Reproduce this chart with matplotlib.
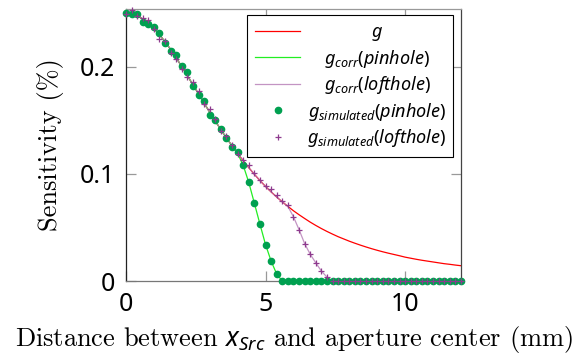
import numpy as np
import matplotlib
matplotlib.use("Agg")
import matplotlib.pyplot as plt

plt.rcParams['mathtext.fontset'] = 'custom'
plt.rcParams['mathtext.it'] = 'Noto Sans:italic'
plt.rcParams['mathtext.rm'] = 'Noto Sans'
plt.rcParams['axes.unicode_minus'] = False

# x grid of the curves (mm), step 0.2 from 0 to 12
x = np.round(np.arange(0, 12.01, 0.2), 1)

g = [0.2500, 0.2494, 0.2476, 0.2447, 0.2407, 0.2357, 0.2299, 0.2234, 0.2162, 0.2083,
     0.2001, 0.1917, 0.1832, 0.1746, 0.1660, 0.1576, 0.1493, 0.1413, 0.1336, 0.1262,
     0.1191, 0.1123, 0.1058, 0.0996, 0.0938, 0.0883, 0.0832, 0.0784, 0.0739, 0.0697,
     0.0656, 0.0619, 0.0584, 0.0550, 0.0519, 0.0490, 0.0463, 0.0438, 0.0414, 0.0393,
     0.0372, 0.0353, 0.0335, 0.0318, 0.0302, 0.0287, 0.0273, 0.0260, 0.0248, 0.0236,
     0.0223, 0.0213, 0.0203, 0.0194, 0.0186, 0.0178, 0.0170, 0.0162, 0.0156, 0.0149,
     0.0143]

g_corr_pin = g[:21] + [0.1080, 0.0920, 0.0726, 0.0530, 0.0340, 0.0186, 0.0065] + [0.0] * 33

g_corr_loft = g[:30] + [0.0600, 0.0480, 0.0350, 0.0250, 0.0170, 0.0093, 0.0037] + [0.0] * 24

g_sim_pin = [0.2505, 0.2495, 0.2490, 0.2422, 0.2397, 0.2375, 0.2313, 0.2220, 0.2149, 0.2109,
             0.2003, 0.1947, 0.1823, 0.1740, 0.1677, 0.1550, 0.1507, 0.1420, 0.1337, 0.1250,
             0.1200, 0.1080, 0.0920, 0.0726, 0.0530, 0.0340, 0.0186, 0.0065] + [0.0] * 33

g_sim_loft = [0.2490, 0.2530, 0.2470, 0.2459, 0.2437, 0.2350, 0.2263, 0.2245, 0.2127, 0.2071,
              0.1984, 0.1907, 0.1854, 0.1774, 0.1650, 0.1607, 0.1513, 0.1405, 0.1352, 0.1271,
              0.1185, 0.1130, 0.1079, 0.1007, 0.0946, 0.0884, 0.0856, 0.0807, 0.0744, 0.0707,
              0.0600, 0.0480, 0.0350, 0.0250, 0.0170, 0.0093, 0.0037] + [0.0] * 24

labels = [r'$g$', r'$g_{corr}(pinhole)$', r'$g_{corr}(lofthole)$',
          r'$g_{simulated}(pinhole)$', r'$g_{simulated}(lofthole)$']

fig = plt.figure(figsize=(5.74, 3.58), dpi=100)
ax = fig.add_axes([0.2195, 0.215, 0.5835, 0.76])

ax.plot(x, g, color='#ff0000', lw=0.9, label=labels[0])
ax.plot(x, g_corr_pin, color='#22ee22', lw=0.9, label=labels[1])
ax.plot(x, g_corr_loft, color='#b57ab5', lw=0.9, alpha=0.8, label=labels[2])
ax.plot(x, g_sim_pin, ls='none', marker='o', ms=4.5, color='#00a050', label=labels[3], clip_on=False, zorder=3)
ax.plot(x, g_sim_loft, ls='none', marker='+', ms=5, mew=0.9, color='#8e3a8e', label=labels[4], clip_on=False, zorder=4)

ax.set_xlim(0, 12)
ax.set_ylim(0, 0.254)
ax.set_xticks([0, 5, 10])
ax.set_yticks([0, 0.1, 0.2])
ax.set_xticklabels(['0', '5', '10'])
ax.set_yticklabels(['0', '0.1', '0.2'])
ax.tick_params(direction='in', length=7, width=0.9, color='#999999', top=True, right=True,
               labelsize=18, pad=8)
for t in ax.get_xticklabels() + ax.get_yticklabels():
    t.set_fontfamily('Noto Sans')

ax.spines['left'].set_color('#222222')
ax.spines['bottom'].set_color('#777777')
ax.spines['right'].set_color('#444444')
ax.spines['top'].set_color('#999999')
for s in ax.spines.values():
    s.set_linewidth(0.9)

ax.set_ylabel('Sensitivity (%)', fontfamily='cmr10', fontsize=19, labelpad=11)
ax.set_xlabel(r'Distance between $x_{Src}$ and aperture center (mm)', fontfamily='cmr10',
              fontsize=19, labelpad=5)

leg = ax.legend(loc='upper left', bbox_to_anchor=(0.361, 0.0, 0.615, 0.978), mode='expand',
                borderaxespad=0, fontsize=13, fancybox=False, edgecolor='black', framealpha=1,
                handlelength=2.5, handletextpad=0.4, labelspacing=0.25, borderpad=0.45)
leg.get_frame().set_linewidth(0.8)
leg.set_zorder(10)

# centre the legend texts like the reference
fig.canvas.draw()
texts = leg.get_texts()
widths = [t.get_window_extent().width for t in texts]
wmax = max(widths)
for t, w in zip(texts, widths):
    t.set_position(((wmax - w) / 2, 0))

fig.savefig('out.png', dpi=100)
